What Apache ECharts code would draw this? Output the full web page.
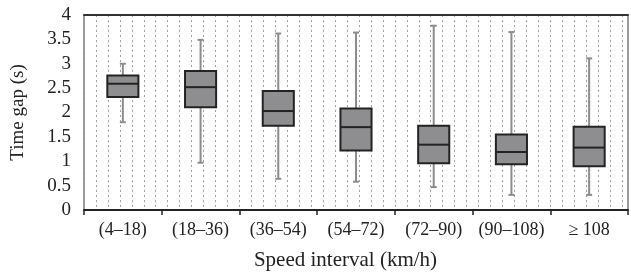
<!DOCTYPE html>
<html>
<head>
<meta charset="utf-8">
<script src="https://cdn.jsdelivr.net/npm/echarts@6/dist/echarts.min.js"></script>
<style>
  html, body { margin: 0; padding: 0; background: #fff; }
  #chart { width: 631px; height: 278px; }
</style>
</head>
<body>
<div id="chart"></div>
<script>
  // speed intervals
  var categories = ['(4\u201318)', '(18\u201336)', '(36\u201354)', '(54\u201372)', '(72\u201390)', '(90\u2013108)', '\u2265 108']
  // time gap statistics (s)
  var whiskerLow = [1.80, 0.97, 0.64, 0.58, 0.47, 0.31, 0.31]
  var q1 = [2.32, 2.11, 1.73, 1.22, 0.96, 0.94, 0.90]
  var median = [2.59, 2.52, 2.03, 1.70, 1.34, 1.19, 1.28]
  var q3 = [2.76, 2.85, 2.44, 2.08, 1.73, 1.55, 1.71]
  var whiskerHigh = [3.00, 3.49, 3.62, 3.64, 3.78, 3.65, 3.11]
  var yTicks = [0, 4, 0.5]

  var boxData = categories.map(function (c, i) {
    return [i, whiskerLow[i], q1[i], median[i], q3[i], whiskerHigh[i]]
  })

  var serif = '"Liberation Serif", "DejaVu Serif", serif'

  function renderBox(params, api) {
    var i = api.value(0)
    var pLow = api.coord([i, api.value(1)])
    var pQ1 = api.coord([i, api.value(2)])
    var pMed = api.coord([i, api.value(3)])
    var pQ3 = api.coord([i, api.value(4)])
    var pHigh = api.coord([i, api.value(5)])
    var bw = api.size([1, 0])[0] * 0.4
    var cx = pMed[0]
    var cap = 3
    var whiskerStyle = { stroke: '#8c8c8c', lineWidth: 2 }
    return {
      type: 'group',
      children: [
        { type: 'line', shape: { x1: cx, y1: pLow[1], x2: cx, y2: pQ1[1] }, style: whiskerStyle },
        { type: 'line', shape: { x1: cx, y1: pQ3[1], x2: cx, y2: pHigh[1] }, style: whiskerStyle },
        { type: 'line', shape: { x1: cx - cap, y1: pLow[1], x2: cx + cap, y2: pLow[1] }, style: whiskerStyle },
        { type: 'line', shape: { x1: cx - cap, y1: pHigh[1], x2: cx + cap, y2: pHigh[1] }, style: whiskerStyle },
        {
          type: 'rect',
          shape: { x: cx - bw / 2, y: pQ3[1], width: bw, height: pQ1[1] - pQ3[1] },
          style: { fill: '#8e8e90', stroke: '#232323', lineWidth: 2 }
        },
        { type: 'line', shape: { x1: cx - bw / 2, y1: pMed[1], x2: cx + bw / 2, y2: pMed[1] }, style: { stroke: '#232323', lineWidth: 2 } }
      ]
    }
  }

  var chart = echarts.init(document.getElementById('chart'), null, { renderer: 'canvas' })
  chart.setOption({
    backgroundColor: '#fff',
    animation: false,
    grid: {
      left: 84,
      right: 3,
      top: 15,
      bottom: 68,
      containLabel: false,
      outerBoundsMode: 'none',
      show: true,
      borderColor: '#333',
      borderWidth: 1
    },
    xAxis: [{
      type: 'category',
      data: categories,
      boundaryGap: true,
      axisLine: { lineStyle: { color: '#222', width: 2 } },
      axisTick: { show: true, length: 5, lineStyle: { color: '#222', width: 1.5 } },
      axisLabel: { color: '#222', fontFamily: serif, fontSize: 18, margin: 11, interval: 0, hideOverlap: false },
      name: 'Speed interval (km/h)',
      nameLocation: 'middle',
      nameGap: 40,
      nameTextStyle: { color: '#222', fontFamily: serif, fontSize: 21, padding: [0, 21, 0, 0] }
    }, {
      // dotted vertical grid
      type: 'value',
      position: 'top',
      min: 0,
      max: 45.5,
      interval: 1,
      axisLine: { show: true, lineStyle: { color: '#333', width: 2 } },
      axisTick: { show: false },
      axisLabel: { show: false },
      splitLine: { show: true, lineStyle: { color: '#a0a0a0', width: 1, type: [2, 3] } }
    }],
    yAxis: {
      type: 'value',
      min: yTicks[0],
      max: yTicks[1],
      interval: yTicks[2],
      axisLine: { show: false },
      axisTick: { show: false },
      splitLine: { show: false },
      axisLabel: { color: '#222', fontFamily: serif, fontSize: 19, margin: 13 },
      name: 'Time gap (s)',
      nameLocation: 'middle',
      nameGap: 56,
      nameTextStyle: { color: '#222', fontFamily: serif, fontSize: 19 }
    },
    series: [{
      type: 'custom',
      xAxisIndex: 0,
      yAxisIndex: 0,
      renderItem: renderBox,
      encode: { x: 0, y: [1, 2, 3, 4, 5] },
      data: boxData,
      z: 5
    }]
  })
</script>
</body>
</html>
